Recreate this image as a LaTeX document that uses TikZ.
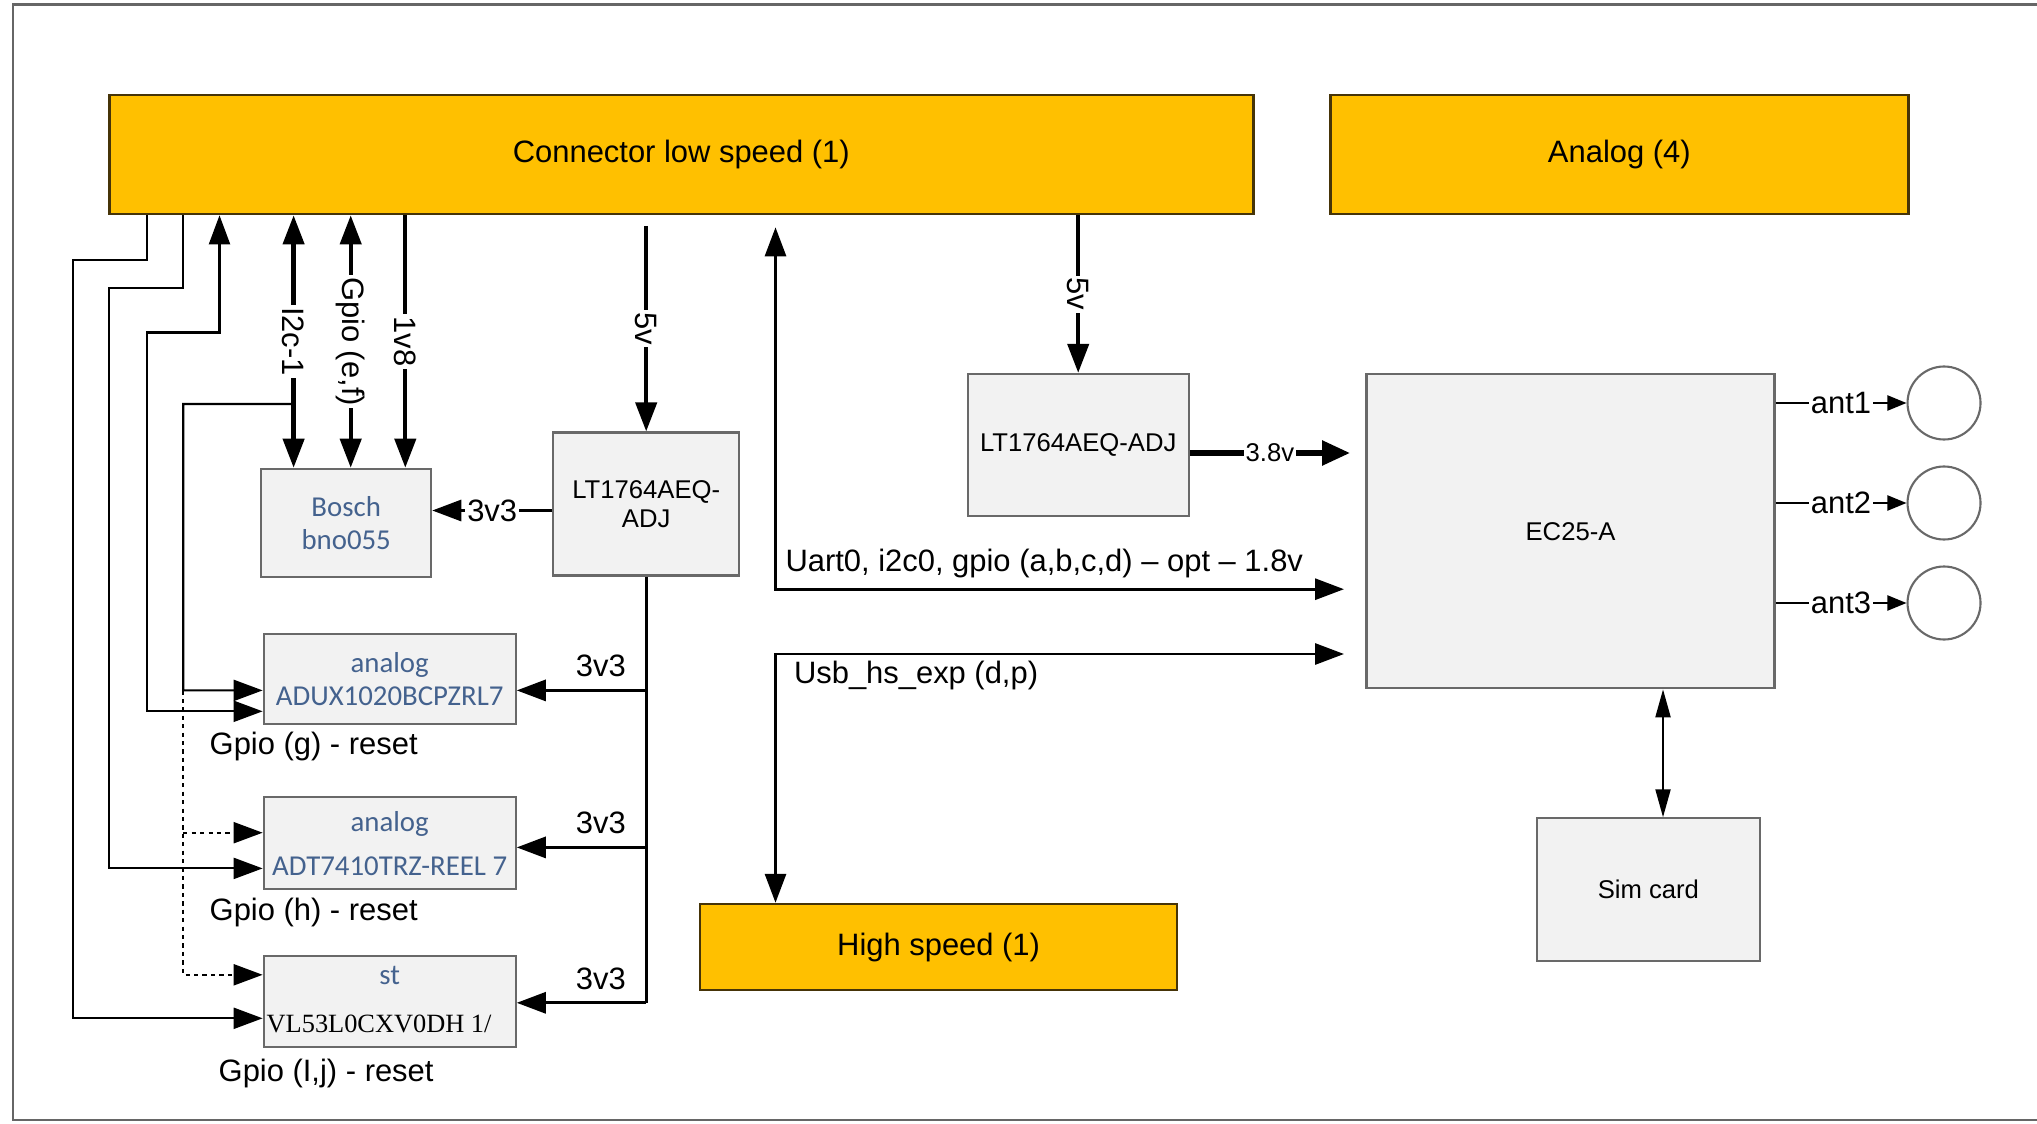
\documentclass[tikz,border=0pt]{standalone}
\usepackage{fontspec}
\setmainfont{Liberation Sans}
\newfontfamily\partfont{Carlito}
\newfontfamily\serialfont{Liberation Serif}
\usepackage{tikz}
\usetikzlibrary{arrows.meta,positioning,calc}
\definecolor{plugorange}{RGB}{255,192,0}
\definecolor{plugedge}{RGB}{70,52,8}
\definecolor{boxfill}{RGB}{242,242,242}
\definecolor{boxedge}{RGB}{105,105,105}
\definecolor{partblue}{RGB}{68,98,142}

\begin{document}
\begin{tikzpicture}[x=1mm, y=-1mm, >={Triangle[length=2.9mm,width=2.1mm]},
	font=\fontsize{8.8}{10.5}\selectfont,
	plug/.style={draw=plugedge, fill=plugorange, line width=0.7pt},
	part/.style={draw=boxedge, fill=boxfill, line width=0.6pt, align=center, inner sep=0pt},
	partname/.style={text=partblue, font=\partfont\fontsize{8.2}{9.4}\selectfont},
	smalltxt/.style={font=\fontsize{7.3}{8.3}\selectfont},
	heavy/.style={line width=1.2pt},
	wire/.style={line width=0.85pt},
	lead/.style={line width=0.6pt},
	tag/.style={fill=white, inner sep=0.6pt}]
	
	\useasboundingbox (0,0) rectangle (203.7,112.4);
	\draw [black!60, line width=0.7pt] (203.7,0.45) -- (1.3,0.45) -- (1.3,112.0) -- (203.7,112.0);
	
	% connectors
	\node [plug, minimum width=114.4mm, minimum height=11.9mm] (low) at (68.13,15.46) {Connector low speed (1)};
	\node [plug, minimum width=57.8mm, minimum height=11.9mm] (ana) at (161.93,15.46) {Analog (4)};
	\node [plug, minimum width=47.7mm, minimum height=8.6mm] (hs) at (93.86,94.7) {High speed (1)};
	
	% parts
	\node [part, partname, minimum width=17mm, minimum height=10.8mm] (bosch) at (34.62,52.28) {Bosch\\bno055};
	\node [part, smalltxt, minimum width=18.6mm, minimum height=14.3mm] (ldoA) at (64.62,50.4) {LT1764AEQ-\\ADJ};
	\node [part, smalltxt, minimum width=22.1mm, minimum height=14.2mm] (ldoB) at (107.82,44.49) {LT1764AEQ-ADJ};
	\node [part, smalltxt, minimum width=40.8mm, minimum height=31.4mm] (ec) at (157.05,53.13) {EC25-A};
	\node [part, smalltxt, minimum width=22.3mm, minimum height=14.3mm] (sim) at (164.84,88.98) {Sim card};
	\node [part, partname, minimum width=25.2mm, minimum height=9mm] (adux) at (38.97,67.87) {analog\\ADUX1020BCPZRL7};
	\node [part, partname, minimum width=25.2mm, minimum height=9.2mm] (adt) at (38.97,84.34) {analog\\[3pt]ADT7410TRZ-REEL 7};
	\node [part, minimum width=25.2mm, minimum height=9.1mm] (vl) at (38.97,100.15) {};
	\node [partname] (vlmaker) at (38.97,97.55) {st};
	\node [anchor=base west, inner sep=0pt, font=\serialfont\fontsize{7.5}{8.6}\selectfont] (vlname) at (26.6,103.2) {VL53L0CXV0DH 1/};
	
	\node [anchor=west, inner sep=0pt] (gpiog) at (20.9,74.6) {Gpio (g) - reset};
	\node [anchor=west, inner sep=0pt] (gpioh) at (20.9,91.2) {Gpio (h) - reset};
	\node [anchor=west, inner sep=0pt] (gpioij) at (21.8,107.3) {Gpio (I,j) - reset};
	
	% bosch bus
	\foreach \x/\lab/\tip in {29.36/I2c-1/<->, 35.07/{Gpio (e,f)}/<->, 40.53/1v8/->}
	{
		\coordinate (bx) at (\x,0);
		\draw [heavy, \tip] (bx |- low.south) -- (bx |- bosch.north)
		node [tag, midway, rotate=-90] {\lab};
	}
	\coordinate (i2ctap) at (29.36,40.4);
	
	% leads on the left
	\coordinate (la) at (14.68,0);
	\coordinate (lb) at (18.32,0);
	\coordinate (lc) at (21.95,0);
	\draw [lead, ->] (la |- low.south) |- (7.27,25.98) |- ([yshift=-1.68mm]vl.west);
	\draw [lead, ->] (lb |- low.south) |- (10.91,28.84) |- ([yshift=-2.5mm]adt.west);
	\draw [lead, <->] (lc |- low.south) |- (14.68,33.25) |- ([yshift=-3.26mm]adux.west);
	\draw [lead, ->] (i2ctap) -| (18.32,69.04) -- ([yshift=-1.17mm]adux.west);
	
	\coordinate (dtap) at (18.32,69.04);
	\coordinate (adtdot) at ([yshift=1.07mm]adt.west);
	\draw [lead, dash pattern=on 1.2pt off 1.2pt, ->] (dtap) |- ([yshift=2.67mm]vl.west);
	\draw [lead, dash pattern=on 1.2pt off 1.2pt, ->] (adtdot -| dtap) -- (adtdot);
	
	% 3v3
	\coordinate (ldoout) at ([yshift=-0.65mm]ldoA.west);
	\draw [wire, ->] (ldoout) -- (ldoout -| bosch.east) node [tag, midway] {3v3};
	\foreach \p/\dy [count=\i] in {adux/-1.17, adt/-0.4, vl/-0.13}
	{
		\coordinate (in\i) at ([yshift=\dy mm]\p.east);
		\draw [wire, ->] (ldoA.south |- in\i) -- (in\i) node [pos=0.35, above] {3v3};
	}
	\draw [wire] (ldoA.south) -- (ldoA.south |- in3);
	
	% 5v
	\coordinate (fiveA) at ($(ldoA.north |- low.south)+(0,1.05)$);
	\draw [heavy, ->] (fiveA) -- (ldoA.north) node [tag, midway, rotate=-90] {5v};
	\draw [heavy, ->] (ldoB.north |- low.south) -- (ldoB.north) node [tag, midway, rotate=-90] {5v};
	
	\coordinate (ecpwr) at (135.0,45.3);
	\draw [line width=1.6pt, -{Triangle[length=2.8mm,width=2.4mm]}] (ldoB.east |- ecpwr) -- (ecpwr)
	node [tag, smalltxt, midway] {3.8v};
	
	% uart and usb
	\coordinate (busx) at (77.55,0);
	\coordinate (uarttop) at ($(busx |- low.south)+(0,1.2)$);
	\coordinate (uartin) at (134.4,58.92);
	\coordinate (usbin) at (134.4,65.4);
	\draw [wire, <->] (uarttop) |- (uartin)
	node [pos=0.5, anchor=base west, inner sep=0pt, xshift=0.85mm, yshift=1.8mm] {Uart0, i2c0, gpio (a,b,c,d) – opt – 1.8v};
	\draw [wire, <->] (busx |- hs.north) |- (usbin)
	node [pos=0.5, anchor=base west, inner sep=0pt, xshift=1.7mm, yshift=-2.9mm] {Usb\_hs\_exp (d,p)};
	
	% antennas
	\foreach \a/\y in {1/40.3, 2/50.3, 3/60.3}
	{
		\node [circle, draw=boxedge, line width=0.6pt, minimum size=7.3mm, inner sep=0pt] (ant\a) at (194.4,\y) {};
		\draw [lead, >={Triangle[length=1.9mm,width=1.5mm]}, ->] (ec.east |- ant\a) -- (ant\a)
		node [tag, midway] {ant\a};
	}
	
	\coordinate (simx) at (166.3,0);
	\draw [lead, >={Triangle[length=2.8mm,width=1.5mm]}, <->] (simx |- ec.south) -- (simx |- sim.north);
	
\end{tikzpicture}
\end{document}
